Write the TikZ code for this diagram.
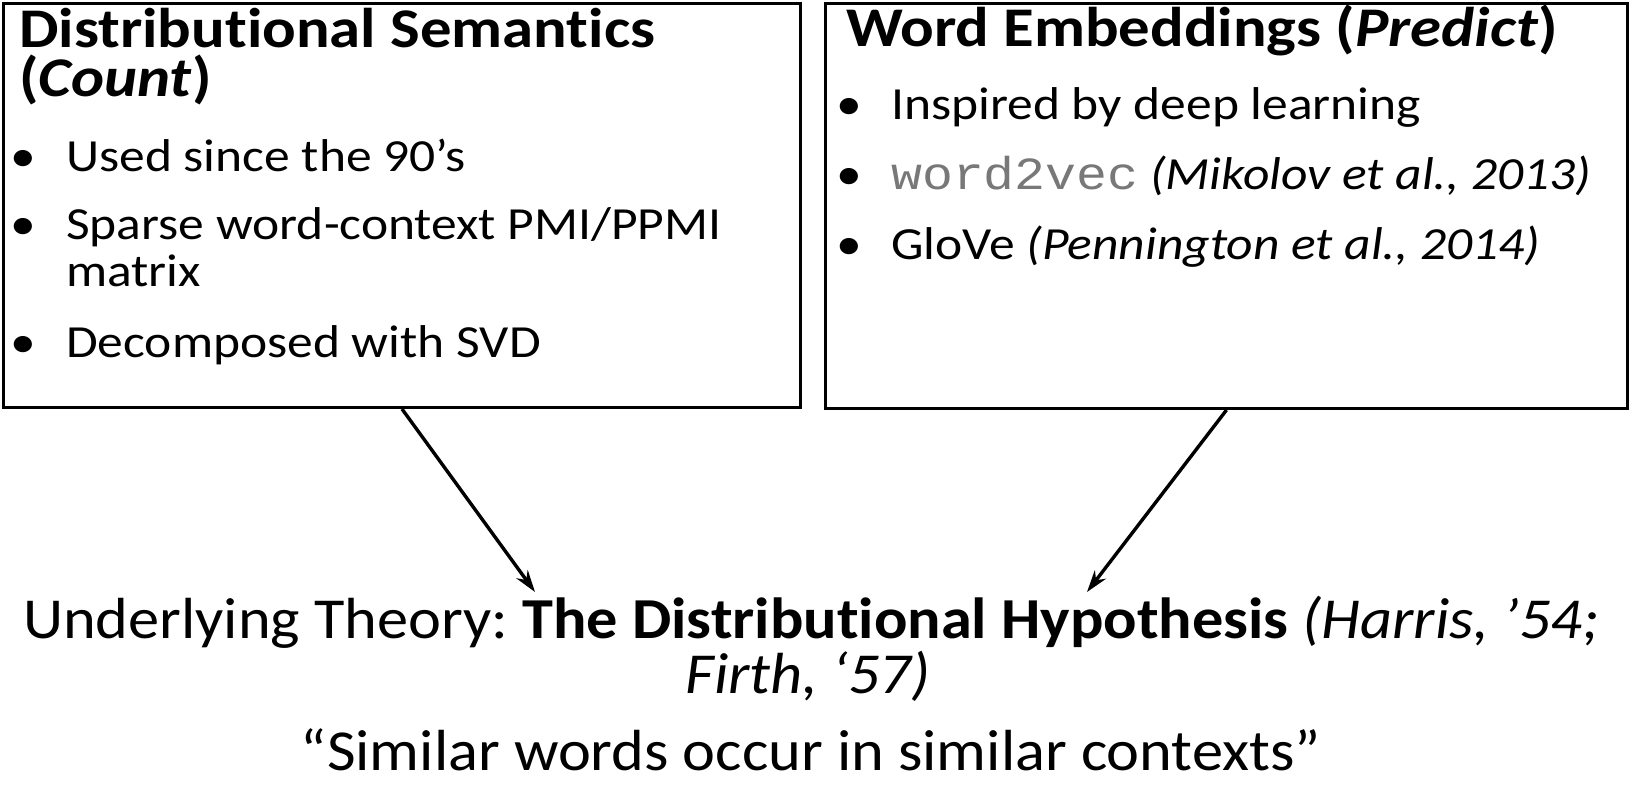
\documentclass[tikz,border=0pt]{standalone}
\usepackage{fontspec}
\setmainfont{Carlito}[Ligatures=NoCommon]
\newfontfamily\boxfam{Carlito}[FakeStretch=1.12,Ligatures=NoCommon]
\newfontfamily\botfam{Carlito}[FakeStretch=1.075,Ligatures=NoCommon]
\newfontfamily\codefont{Liberation Mono}[FakeStretch=1.12]
\usetikzlibrary{arrows.meta}
\definecolor{codegray}{RGB}{120,120,120}
\newcommand{\hdfont}{\boxfam\fontsize{56}{60}\selectfont\bfseries}
\newcommand{\btfont}{\boxfam\fontsize{46}{50}\selectfont}
\newcommand{\btmfont}{\botfam\fontsize{58}{64}\selectfont}
\newcommand{\twolines}[3]{\vtop{\baselineskip=#1\lineskiplimit=-200pt\lineskip=0pt\hbox{#2}\hbox{#3}}}
\frenchspacing
\begin{document}
\begin{tikzpicture}[x=1pt,y=-1pt,
  box/.style={draw=black,line width=3pt,inner sep=0pt,anchor=north west},
  txt/.style={anchor=base west,inner sep=0pt},
  bul/.style={anchor=base,inner sep=0pt,font=\btfont},
  arr/.style={line width=3.4pt,-{Stealth[length=22pt,width=14pt]}}]
\useasboundingbox (0,0) rectangle (1635,791);
% boxes
\node[box,minimum width=797pt,minimum height=404pt] (lbox) at (2,2) {};
\node[box,minimum width=802pt,minimum height=405pt] (rbox) at (824,2) {};
% left box text
\node[txt,font=\hdfont] (lh) at (19,48) {\twolines{49pt}{Distributional Semantics}{(\textit{Count})}};
\node[bul] (lb1) at (23,172) {•};
\node[txt,font=\btfont] (lt1) at (66,172) {Used since the 90’s};
\node[bul] (lb2) at (23,240) {•};
\node[txt,font=\btfont] (lt2) at (66,240) {\twolines{47pt}{Sparse word-context PMI/PPMI}{matrix}};
\node[bul] (lb3) at (23,357) {•};
\node[txt,font=\btfont] (lt3) at (66,357) {Decomposed with SVD};
% right box text
\node[txt,font=\hdfont] (rh1) at (846,47) {Word Embeddings (\textit{Predict})};
\node[bul] (rb1) at (849,120) {•};
\node[txt,font=\btfont] (rt1) at (891,120) {Inspired by deep learning};
\node[bul] (rb2) at (849,190) {•};
\node[txt,font=\btfont] (rt2) at (891,190) {{\codefont\color{codegray}word2vec} \textit{(Mikolov et al., 2013)}};
\node[bul] (rb3) at (849,260) {•};
\node[txt,font=\btfont] (rt3) at (891,260) {GloVe \textit{(Pennington et al., 2014)}};
% bottom text
\node[anchor=base,inner sep=0pt,font=\btmfont] (u1) at (811,638) {Underlying Theory: \textbf{The Distributional Hypothesis} \textit{(Harris, ’54;}};
\node[anchor=base,inner sep=0pt,font=\btmfont] (u2) at (808,693) {\textit{Firth, ‘57)}};
\node[anchor=base,inner sep=0pt,font=\btmfont] (q) at (811,770) {“Similar words occur in similar contexts”};
% arrows
\coordinate (ltip) at (535,592);
\coordinate (rtip) at (1087,592);
\draw[arr] (lbox.south) -- (ltip);
\draw[arr] (rbox.south) -- (rtip);
\end{tikzpicture}
\end{document}
